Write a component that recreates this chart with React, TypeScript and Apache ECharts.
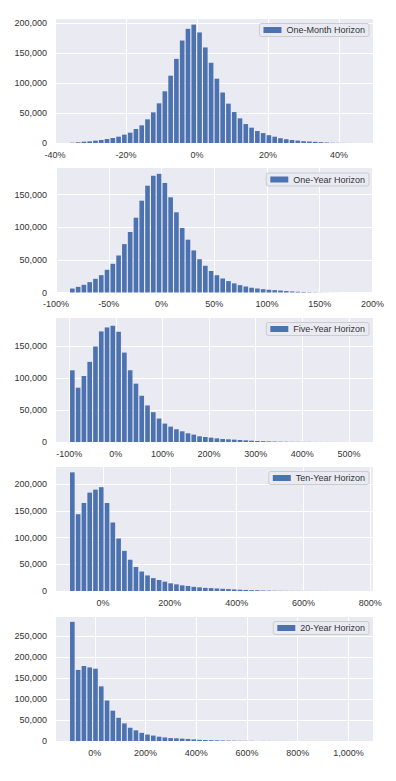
import React, { useEffect, useRef } from 'react';
import * as echarts from 'echarts';

// Legend names of the five panels
const horizonNames = [
  'One-Month Horizon',
  'One-Year Horizon',
  'Five-Year Horizon',
  'Ten-Year Horizon',
  '20-Year Horizon',
];

// Histogram counts (50 bins each)
const oneMonthCounts = [
  500, 1200, 2200, 2800, 3900, 5000, 6700, 8300, 10500, 13900, 17200, 23300, 29400, 39400, 51000,
  66000, 86000, 112000, 140000, 170500, 190000, 197000, 184000, 159000, 133500, 107000, 84000,
  65500, 51500, 41000, 31500, 25500, 20000, 16500, 13000, 10500, 8000, 6300, 5000, 4000, 3000,
  2500, 2000, 1400, 800, 400, 250, 150, 80, 40,
];
const oneYearCounts = [
  6100, 8700, 11800, 15900, 21000, 26600, 34800, 44000, 56800, 74200, 92700, 114700, 140800,
  163800, 179000, 182000, 168000, 146000, 123000, 99000, 81000, 64500, 51000, 41000, 33000, 26500,
  21500, 17500, 14000, 11300, 9200, 7300, 6100, 5100, 4200, 3600, 3000, 2200, 1600, 1100, 800,
  500, 350, 200, 150, 100, 60, 40, 20, 10,
];
const fiveYearCounts = [
  111800, 84700, 103000, 125000, 149000, 172500, 178700, 181300, 172000, 139500, 111800, 91000,
  72100, 57000, 46500, 36600, 28700, 24000, 19900, 16700, 13600, 11500, 8900, 7800, 6800, 5700,
  4700, 4200, 3700, 3100, 2600, 2100, 1600, 1300, 1000, 700, 500, 400, 300, 250, 200, 150, 120,
  100, 80, 60, 40, 30, 20, 10,
];
const tenYearCounts = [
  222500, 144000, 165000, 184500, 190000, 194700, 165000, 128500, 98500, 75300, 58400, 45000,
  36500, 29200, 24200, 20600, 17500, 14400, 12500, 10600, 9400, 7800, 6900, 5800, 5400, 4700,
  4200, 3600, 3000, 2500, 2000, 1500, 1200, 900, 700, 500, 400, 300, 250, 200, 150, 120, 100, 80,
  60, 50, 40, 30, 20, 10,
];
const twentyYearCounts = [
  285000, 170000, 179400, 176000, 173000, 130700, 96800, 72500, 55500, 42100, 31800, 25500, 19500,
  15400, 13000, 10300, 8500, 7000, 6500, 5700, 4900, 3700, 2800, 2400, 2000, 1600, 1200, 900, 700,
  500, 400, 300, 250, 200, 150, 120, 100, 80, 70, 60, 50, 40, 30, 25, 20, 15, 10, 8, 5, 3,
];

// Bin definitions (return in %): first edge and bin width
const binStarts = [-35.93, -87.3, -99.5, -100.25, -100];
const binWidths = [1.629, 5.482, 12.4, 17.3, 22.8];

// Axis ranges and tick steps
const xMins = [-40, -101, -130.5, -143.5, -157];
const xMaxs = [49.6, 200.5, 551.5, 808, 1097];
const xSteps = [20, 50, 100, 200, 200];
const yMaxs = [208000, 191700, 195000, 234400, 299000];
const yStep = 50000;

const allCounts = [oneMonthCounts, oneYearCounts, fiveYearCounts, tenYearCounts, twentyYearCounts];

const BAR = '#4C72B0';
const BG = '#EAEAF2';
const TXT = '#333333';
const FONT = '"Liberation Sans", Arial, sans-serif';
const gridTops = [18, 167.5, 317, 466, 616];
const GRID_H = 125;

const withCommas = (n: number) => String(n).replace(/\B(?=(\d{3})+(?!\d))/g, ',');
const isMultiple = (v: number, step: number) => Math.abs(v / step - Math.round(v / step)) < 1e-6;

export default function App() {
  const ref = useRef<HTMLDivElement>(null);
  useEffect(() => {
    if (!ref.current) return;
    const chart = echarts.init(ref.current, undefined, { renderer: 'svg' });
    const rwidth = 0.8;

    const grids = gridTops.map((t) => ({ left: 55, width: 318, top: t, height: GRID_H, backgroundColor: BG, show: true, borderWidth: 0 }));

    const xAxes = xMins.map((mn, i) => ({
      type: 'value',
      gridIndex: i,
      min: mn,
      max: xMaxs[i],
      minInterval: xSteps[i],
      maxInterval: xSteps[i],
      axisLine: { show: false },
      axisTick: { show: false },
      splitLine: { show: true, lineStyle: { color: '#ffffff', width: 1 } },
      axisLabel: {
        show: true,
        margin: 7,
        fontSize: 9,
        color: TXT,
        fontFamily: FONT,
        showMinLabel: true,
        showMaxLabel: true,
        formatter: (v: number) => (isMultiple(v, xSteps[i]) ? withCommas(Math.round(v)) + '%' : ''),
      },
    }));

    const yAxes = yMaxs.map((mx, i) => ({
      type: 'value',
      gridIndex: i,
      min: 0,
      max: mx,
      minInterval: yStep,
      maxInterval: yStep,
      axisLine: { show: false },
      axisTick: { show: false },
      splitLine: { show: true, lineStyle: { color: '#ffffff', width: 1 } },
      axisLabel: {
        show: true,
        margin: 8,
        fontSize: 9,
        color: TXT,
        fontFamily: FONT,
        showMinLabel: true,
        showMaxLabel: true,
        formatter: (v: number) => (isMultiple(v, yStep) ? withCommas(Math.round(v)) : ''),
      },
    }));

    const series = allCounts.map((counts, i) => {
      const w = binWidths[i];
      const data = counts.map((c, k) => {
        const center = binStarts[i] + w * (k + 0.5);
        return [center - (w * rwidth) / 2, center + (w * rwidth) / 2, c];
      });
      return {
        type: 'custom',
        name: horizonNames[i],
        xAxisIndex: i,
        yAxisIndex: i,
        color: BAR,
        itemStyle: { color: BAR },
        encode: { x: [0, 1], y: 2 },
        data,
        renderItem: (params: any, api: any) => {
          const p0 = api.coord([api.value(0), api.value(2)]);
          const p1 = api.coord([api.value(1), 0]);
          return {
            type: 'rect',
            shape: { x: p0[0], y: p0[1], width: p1[0] - p0[0], height: p1[1] - p0[1] },
            style: { fill: BAR },
          };
        },
      };
    });

    const legends = horizonNames.map((n, i) => ({
      data: [{ name: n, itemStyle: { color: BAR } }],
      right: 27,
      top: gridTops[i] + 5.5,
      orient: 'horizontal',
      icon: 'rect',
      itemWidth: 18,
      itemHeight: 6,
      padding: [2, 4],
      backgroundColor: BG,
      borderColor: '#cccccc',
      borderWidth: 1,
      borderRadius: 2,
      selectedMode: false,
      textStyle: { fontSize: 9, color: TXT, fontFamily: FONT },
    }));

    chart.setOption({
      animation: false,
      backgroundColor: '#ffffff',
      textStyle: { fontFamily: FONT },
      grid: grids,
      xAxis: xAxes,
      yAxis: yAxes,
      legend: legends,
      series,
    } as any);

    return () => chart.dispose();
  }, []);

  return (
    <div
      ref={ref}
      style={{ position: 'absolute', left: 0, top: 0, width: 396, height: 781 }}
    />
  );
}
